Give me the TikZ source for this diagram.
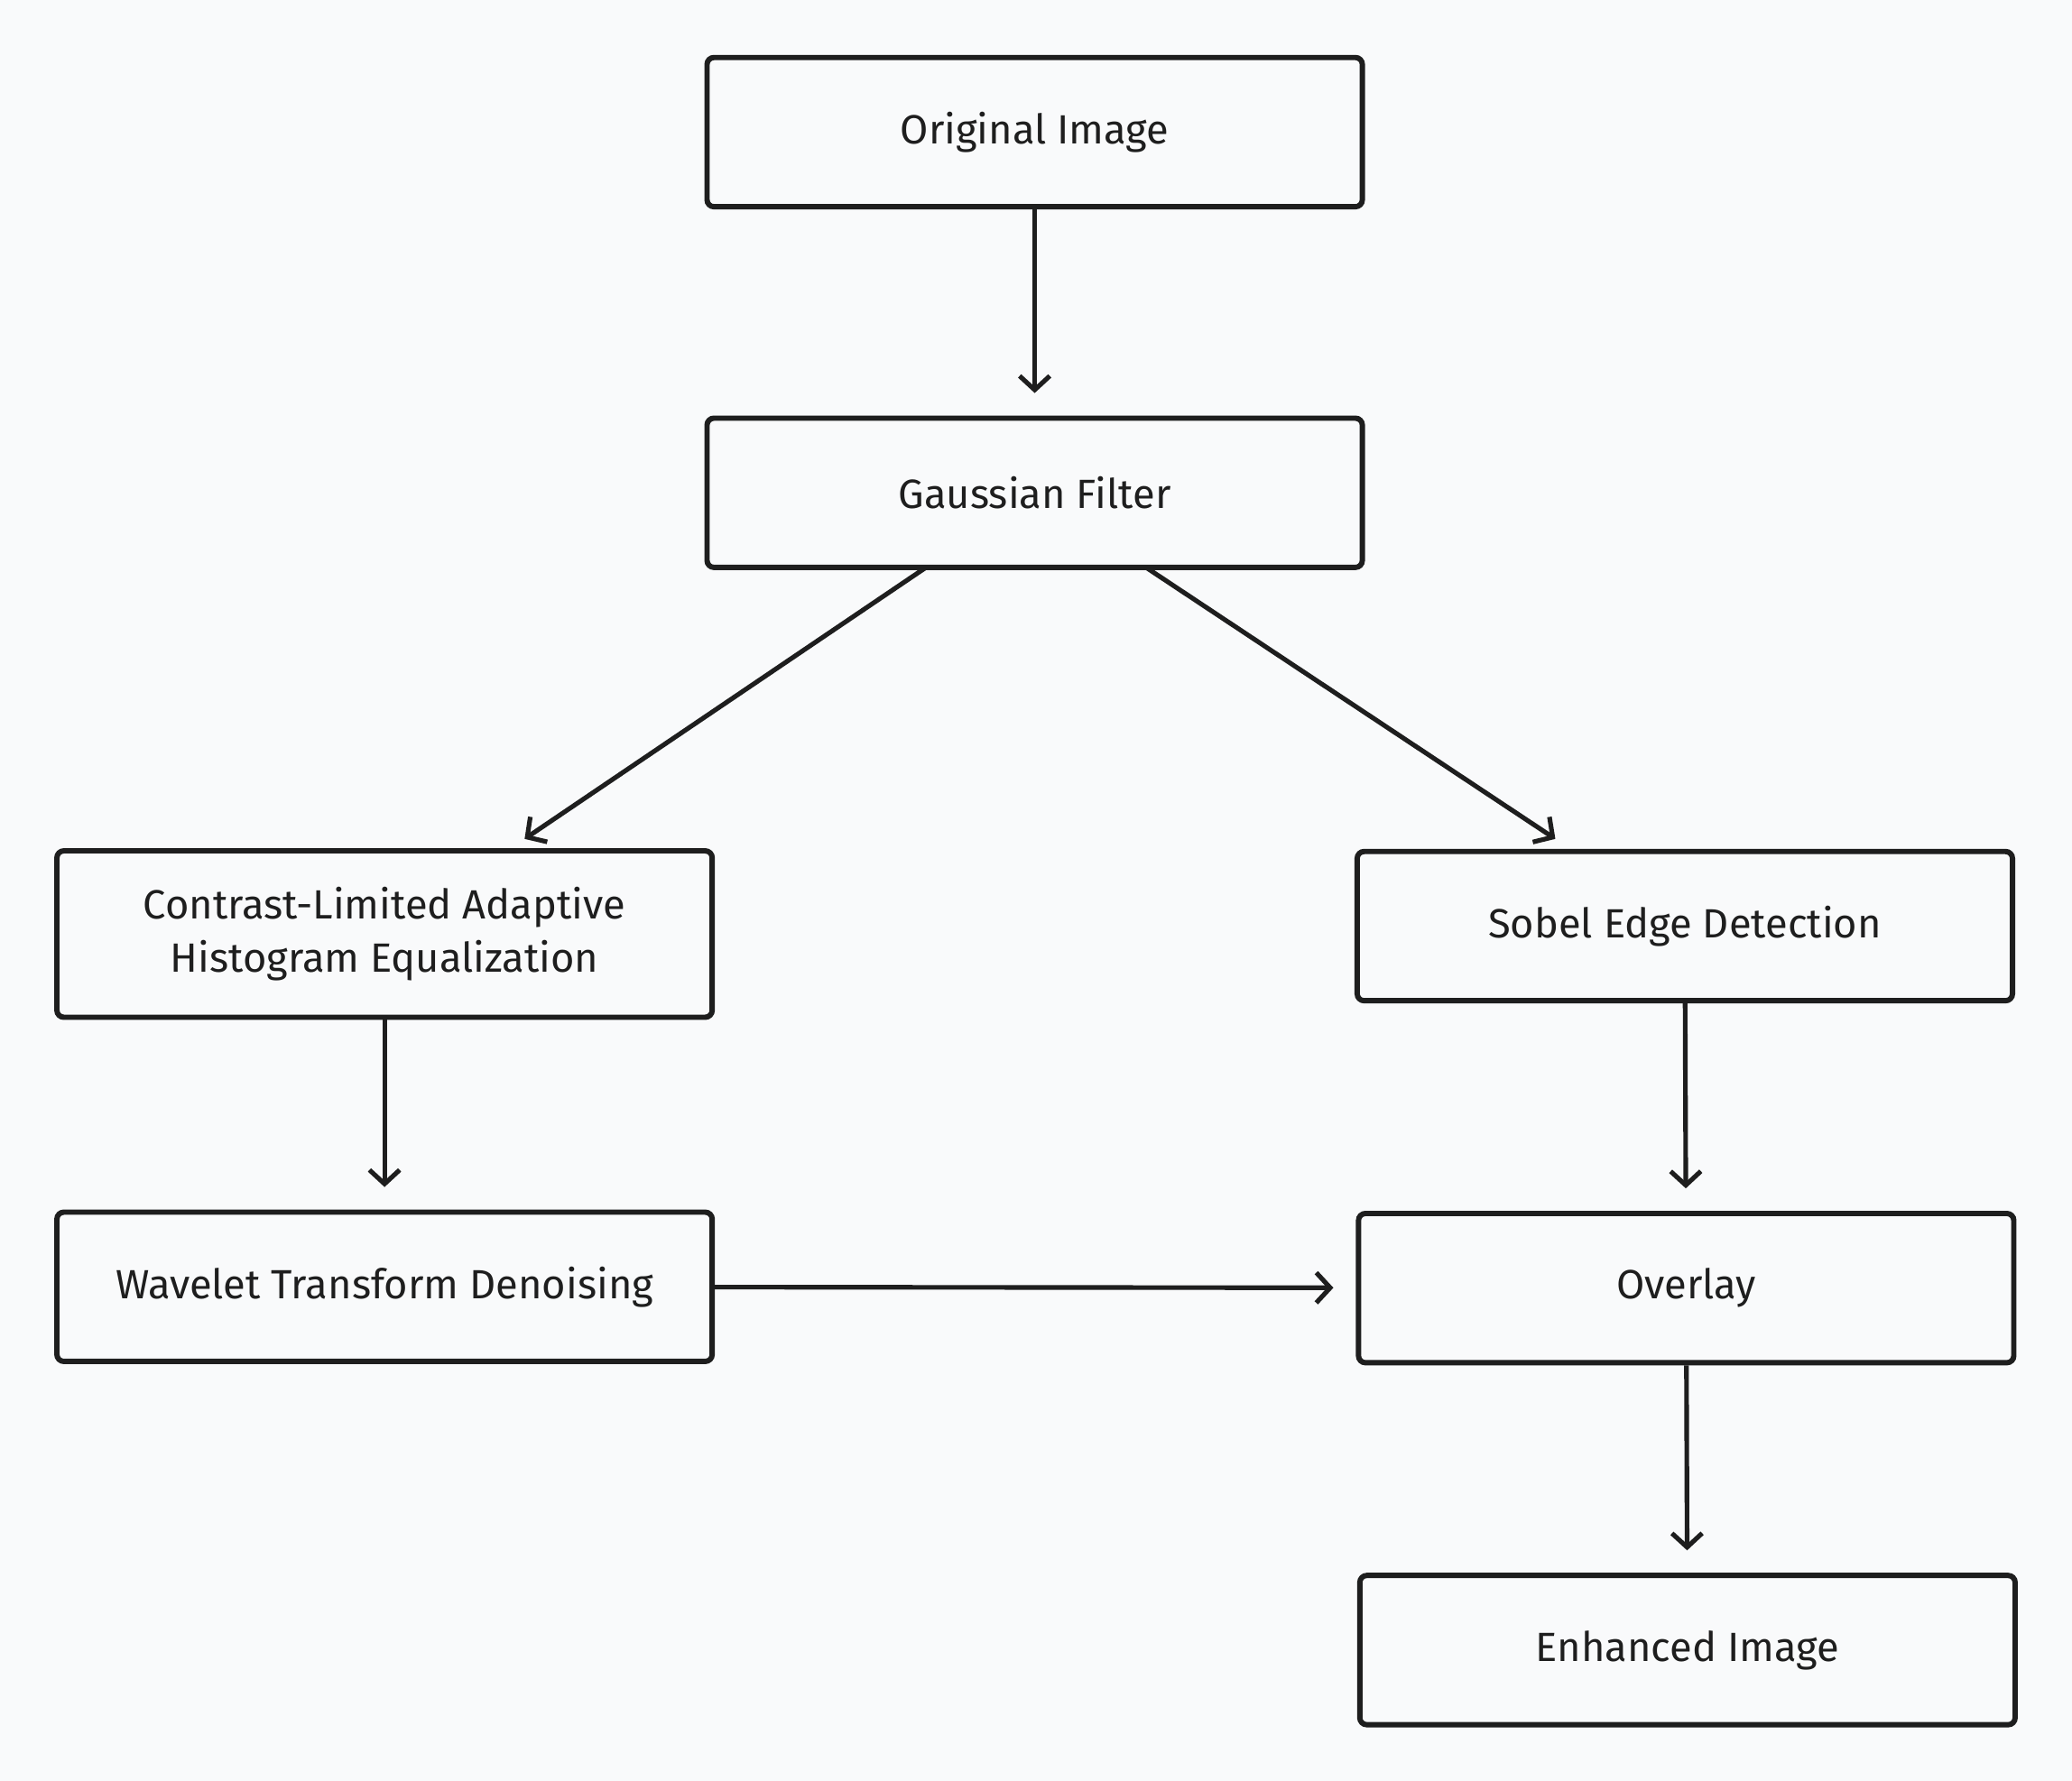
\documentclass[tikz,border=0pt]{standalone}
\usepackage{fontspec}
\setmainfont{Fira Sans}
\usetikzlibrary{arrows.meta}
\definecolor{bgGrau}{HTML}{F9FAFB}
\definecolor{strichFarbe}{HTML}{1E1E1E}
\tikzset{
	kasten/.style={rectangle,rounded corners=3pt,draw=strichFarbe,line width=2.3pt,minimum width=9.92cm,minimum height=2.26cm,align=center,text=strichFarbe,font=\fontsize{17.6}{23}\selectfont},
	pfeil/.style={draw=strichFarbe,line width=2pt,-{Straight Barb[length=6pt,width=13pt,line width=2pt]},shorten >=0.34cm}
}
\begin{document}
\begin{tikzpicture}[x=0.02cm,y=-0.02cm]
	\fill[bgGrau] (0,0) rectangle (1568,1348);
	\useasboundingbox (0,0) rectangle (1568,1348);
	\node[kasten] (orig) at (783,100) {Original Image};
	\node[kasten] (gauss) at (783,373) {Gaussian Filter};
	%
	\node[kasten,minimum height=2.52cm] (clahe) at (291,707) {Contrast-Limited Adaptive\\Histogram Equalization};
	\node[kasten] (sobel) at (1275,701) {Sobel Edge Detection};
	%
	\node[kasten] (wavelet) at (291,974) {Wavelet Transform Denoising};
	\node[kasten] (overlay) at (1276,975) {Overlay};
	%
	\node[kasten] (enh) at (1277,1249) {Enhanced Image};
	%
	\coordinate (gL) at (700,430);
	\coordinate (gR) at (868,430);
	\coordinate (cN) at (397,635);
	\coordinate (sN) at (1177,635);
	%
	\draw[pfeil] (orig) -- (gauss);
	\draw[pfeil,shorten >=0pt] (gL) -- (cN);
	\draw[pfeil,shorten >=0pt] (gR) -- (sN);
	\draw[pfeil] (clahe) -- (wavelet);
	\draw[pfeil] (sobel) -- (overlay);
	\draw[pfeil] (wavelet) -- (overlay);
	\draw[pfeil] (overlay) -- (enh);
\end{tikzpicture}
\end{document}
